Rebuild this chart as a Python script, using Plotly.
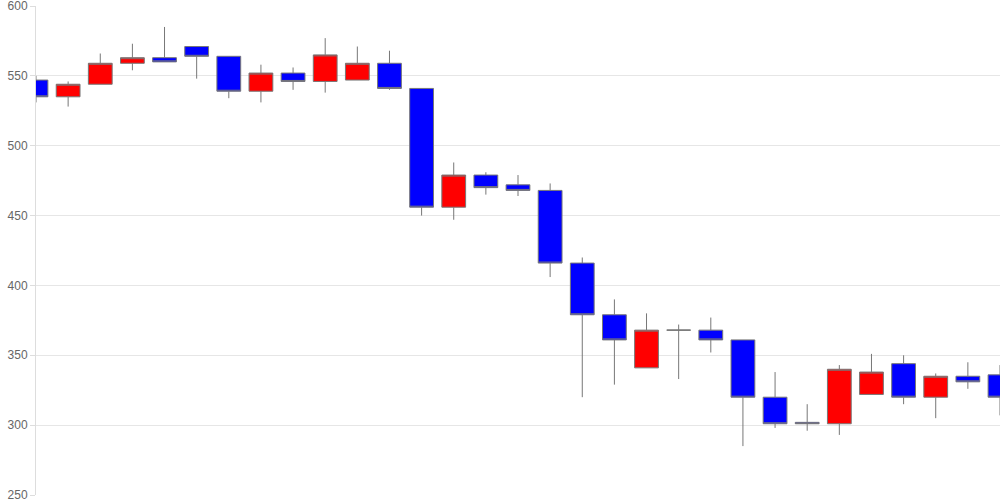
import plotly.graph_objects as go

opens  = [547, 535, 544, 559, 563, 571, 564, 539, 552, 546, 547, 559, 541, 456, 479, 472, 468, 416, 379, 341, 368, 368, 361, 320, 302, 301, 322, 344, 320, 335, 336]
highs  = [550, 546, 566, 573, 585, 571, 564, 558, 556, 577, 571, 568, 541, 488, 481, 479, 473, 420, 390, 380, 372, 377, 361, 338, 315, 343, 351, 350, 337, 345, 343]
lows   = [531, 528, 544, 554, 560, 548, 534, 531, 540, 538, 547, 540, 450, 447, 465, 464, 406, 320, 329, 341, 333, 352, 285, 298, 296, 293, 322, 315, 305, 326, 307]
closes = [535, 544, 559, 563, 560, 564, 539, 552, 546, 565, 559, 541, 456, 479, 470, 468, 416, 379, 361, 368, 368, 361, 320, 301, 301, 340, 338, 320, 335, 331, 320]
x_idx = list(range(len(opens)))

y_ticks = [250, 300, 350, 400, 450, 500, 550, 600]

fig = go.Figure(go.Candlestick(
    x=x_idx, open=opens, high=highs, low=lows, close=closes,
    increasing=dict(fillcolor="#ff0000", line=dict(color="#777777", width=1)),
    decreasing=dict(fillcolor="#0000ff", line=dict(color="#777777", width=1)),
    whiskerwidth=0, showlegend=False, hoverinfo="skip",
))

fig.update_layout(
    width=1000, height=500,
    margin=dict(l=36, r=0, t=6, b=5, autoexpand=False),
    paper_bgcolor="white", plot_bgcolor="white",
    boxgap=0.26, boxgroupgap=0,
    font=dict(family="Liberation Sans, Arial, sans-serif", size=12, color="#666666"),
    xaxis=dict(range=[0, len(opens) - 1], rangeslider=dict(visible=False),
               showgrid=False, showticklabels=False, zeroline=False, showline=False, ticks=""),
    yaxis=dict(range=[250, 600], tickvals=y_ticks, showgrid=True, gridcolor="#e6e6e6",
               showline=True, linecolor="#dddddd", ticks="outside", ticklen=5, tickcolor="#dddddd",
               zeroline=False, automargin=False, ticklabeloverflow="allow",
               tickfont=dict(size=12, color="#666666")),
)

fig.write_html("out.html", config={"displayModeBar": False},
               post_script="document.body.style.margin='0';")
